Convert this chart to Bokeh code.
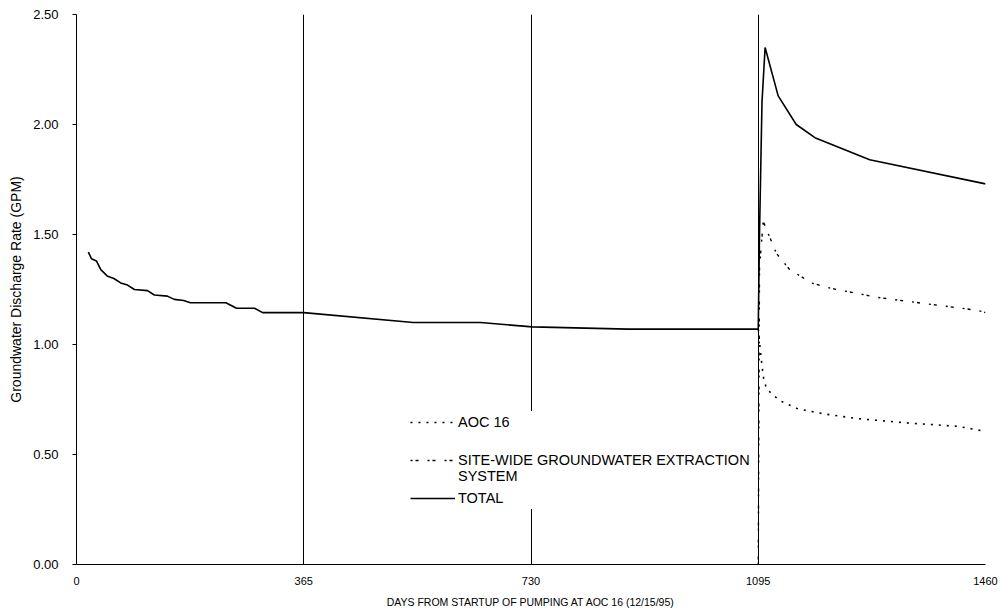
from bokeh.plotting import figure
from bokeh.models import (Range1d, FixedTicker, NumeralTickFormatter, Legend, LegendItem)
from bokeh.embed import file_html
from bokeh.resources import INLINE

# ---- data ----
total_days = [19, 24, 32, 39, 50, 60, 71, 82, 93, 114, 125, 146, 157, 172, 183,
              240, 257, 286, 299, 365, 541, 649, 732, 886, 1095,
              1097, 1101, 1106, 1127, 1156, 1186, 1274, 1460]
total_vals = [1.42, 1.39, 1.38, 1.34, 1.31, 1.30, 1.28, 1.27, 1.25, 1.245, 1.225, 1.22, 1.205, 1.20, 1.19,
              1.19, 1.165, 1.165, 1.145, 1.145, 1.10, 1.10, 1.08, 1.07, 1.07,
              1.50, 2.10, 2.35, 2.13, 2.00, 1.94, 1.84, 1.73]

aoc_days = [1095, 1096, 1097, 1100, 1103, 1108, 1121, 1132, 1159, 1202, 1255, 1336, 1416, 1460]
aoc_vals = [1.07, 1.05, 1.01, 0.93, 0.855, 0.80, 0.765, 0.742, 0.707, 0.684, 0.663, 0.643, 0.628, 0.605]

sw_days = [1095, 1097, 1103, 1110, 1116, 1124, 1145, 1180, 1212, 1287, 1368, 1448, 1460]
sw_vals = [0.0, 1.35, 1.56, 1.51, 1.47, 1.415, 1.342, 1.28, 1.255, 1.214, 1.184, 1.155, 1.145]

x_ticks = [0, 365, 730, 1095, 1460]
y_ticks = [0.0, 0.5, 1.0, 1.5, 2.0, 2.5]
grid_days = [365, 730, 1095]

FONT = "Liberation Sans"

p = figure(width=1000, height=610, output_backend="svg", toolbar_location=None,
           x_range=Range1d(0, 1460), y_range=Range1d(0, 2.5),
           min_border_left=76, min_border_right=15, min_border_top=14, min_border_bottom=10)
p.outline_line_color = None
p.background_fill_color = "white"

p.xgrid.ticker = FixedTicker(ticks=grid_days)
p.xgrid.grid_line_color = "black"
p.xgrid.grid_line_width = 1
p.ygrid.grid_line_color = None

p.xaxis.ticker = FixedTicker(ticks=x_ticks)
p.yaxis.ticker = FixedTicker(ticks=y_ticks)
p.yaxis.formatter = NumeralTickFormatter(format="0.00")

for ax in (p.xaxis[0], p.yaxis[0]):
    ax.axis_line_color = "black"
    ax.axis_line_width = 1
    ax.minor_tick_line_color = None
    ax.major_tick_line_color = "black"
    ax.major_label_text_color = "black"
    ax.axis_label_text_color = "black"
    ax.axis_label_text_font_style = "normal"

p.yaxis.major_tick_out = 4
p.yaxis.major_tick_in = 0
p.yaxis.major_label_text_font = FONT
p.yaxis.major_label_text_font_size = "13px"
p.yaxis.major_label_standoff = 14
p.yaxis.axis_label = "Groundwater Discharge Rate (GPM)"
p.yaxis.axis_label_text_font = FONT
p.yaxis.axis_label_text_font_size = "14px"
p.yaxis.axis_label_standoff = 6

p.xaxis.major_tick_out = 0
p.xaxis.major_tick_in = 0
p.xaxis.major_label_text_font = FONT
p.xaxis.major_label_text_font_size = "11px"
p.xaxis.major_label_standoff = 12
p.xaxis.axis_label = "DAYS FROM STARTUP OF PUMPING AT AOC 16 (12/15/95)"
p.xaxis.axis_label_text_font = FONT
p.xaxis.axis_label_text_font_size = "10.5px"
p.xaxis.axis_label_standoff = 8

r_aoc = p.line(aoc_days, aoc_vals, line_color="black", line_width=1.6, line_dash="2 6")
r_sw = p.line(sw_days, sw_vals, line_color="black", line_width=1.4, line_dash="2 3 3 9")
r_tot = p.line(total_days, total_vals, line_color="black", line_width=1.6)

legend = Legend(items=[
    LegendItem(label="AOC 16", renderers=[r_aoc]),
    LegendItem(label="\nSITE-WIDE GROUNDWATER EXTRACTION\nSYSTEM", renderers=[r_sw]),
    LegendItem(label="TOTAL", renderers=[r_tot]),
], location=(334, 55))
legend.background_fill_color = "white"
legend.background_fill_alpha = 1.0
legend.border_line_color = None
legend.label_text_font = FONT
legend.label_text_font_size = "14.5px"
legend.label_text_color = "black"
legend.glyph_width = 45
legend.glyph_height = 22
legend.label_height = 22
legend.label_standoff = 3
legend.spacing = 3
legend.padding = 12
legend.margin = 0
p.add_layout(legend, "center")

open("out.html", "w").write(file_html(p, INLINE))
